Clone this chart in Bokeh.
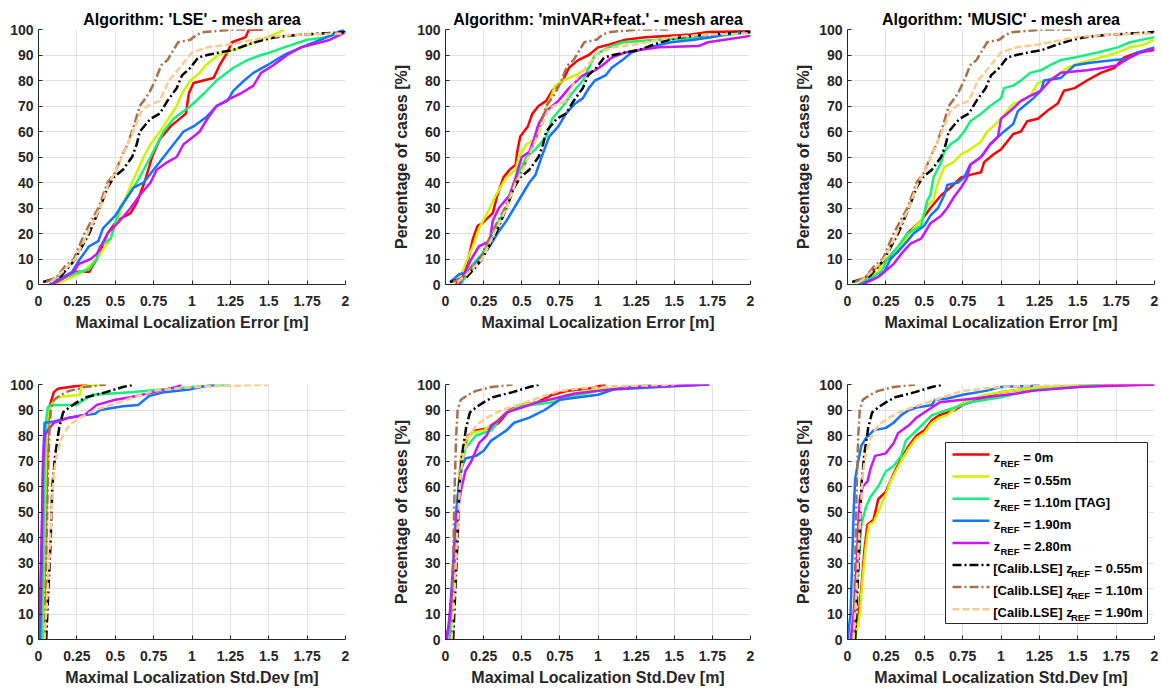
from bokeh.plotting import figure
from bokeh.layouts import column, row
from bokeh.models import FixedTicker
from bokeh.core.properties import value
from bokeh.embed import file_html
from bokeh.resources import INLINE

FONT = "Liberation Sans"

# ---------------- axes / text ----------------
x_ticks = [0, 0.25, 0.5, 0.75, 1, 1.25, 1.5, 1.75, 2]
x_tick_labels = ["0", "0.25", "0.5", "0.75", "1", "1.25", "1.5", "1.75", "2"]
y_ticks = [0, 10, 20, 30, 40, 50, 60, 70, 80, 90, 100]
titles = ["Algorithm: 'LSE' - mesh area",
          "Algorithm: 'minVAR+feat.' - mesh area",
          "Algorithm: 'MUSIC' - mesh area"]
x_label_err = "Maximal Localization Error [m]"
x_label_std = "Maximal Localization Std.Dev [m]"
y_label = "Percentage of cases [%]"

legend_prefix = ["z", "z", "z", "z", "z", "[Calib.LSE] z", "[Calib.LSE] z", "[Calib.LSE] z"]
legend_sub = "REF"
legend_suffix = ["= 0m", "= 0.55m", "= 1.10m [TAG]", "= 1.90m", "= 2.80m",
                 "= 0.55m", "= 1.10m", "= 1.90m"]

COLORS = ["#ff0000", "#ccf500", "#14f07a", "#1473ff", "#c814ff",
          "#000000", "#a8704a", "#ffc88c"]
DASHES = ["solid", "solid", "solid", "solid", "solid", "9 3 2 3", "9 3 2 3", "7 3"]

# ---------------- data: Maximal Localization Error ----------------
lse_err_z000 = ([0.08, 0.15, 0.25, 0.33, 0.38, 0.45, 0.51, 0.6, 0.64, 0.69, 0.74, 0.79, 0.86, 0.96, 0.98, 1.01, 1.14, 1.18, 1.23, 1.26, 1.35, 1.37, 1.46],
                [0, 2, 5, 5, 10, 20, 25, 28, 32, 40, 50, 57, 62, 67, 75, 79, 81, 86, 91, 95, 97, 100, 100])
lse_err_z055 = ([0.08, 0.15, 0.29, 0.38, 0.47, 0.54, 0.61, 0.685, 0.73, 0.815, 0.9, 0.935, 0.99, 1.05, 1.09, 1.17, 1.32, 1.45, 1.57, 1.6],
                [0, 1, 5, 10, 18, 30, 40, 50, 55, 62, 70, 75, 80, 83, 86, 90, 93, 96, 99, 100])
lse_err_z110 = ([0.07, 0.1, 0.22, 0.33, 0.38, 0.4, 0.47, 0.53, 0.64, 0.73, 0.815, 0.88, 0.99, 1.08, 1.16, 1.27, 1.36, 1.45, 1.51, 1.6, 1.75, 1.88, 2.0],
                [0, 1, 4, 6, 10, 15, 18, 30, 40, 50, 60, 65, 70, 75, 80, 85, 88, 90, 91, 93, 96, 97, 99])
lse_err_z190 = ([0.07, 0.1, 0.22, 0.27, 0.33, 0.39, 0.42, 0.5, 0.565, 0.62, 0.685, 0.75, 0.815, 0.88, 0.945, 1.01, 1.1, 1.16, 1.23, 1.27, 1.34, 1.4, 1.49, 1.6, 1.75, 1.84, 1.99],
                [0, 1, 5, 10, 15, 17, 22, 27, 33, 38, 40, 45, 50, 55, 60, 62, 66, 70, 72, 76, 80, 83, 86, 90, 94, 96, 100])
lse_err_z280 = ([0.08, 0.12, 0.23, 0.26, 0.34, 0.38, 0.45, 0.53, 0.6, 0.66, 0.73, 0.77, 0.84, 0.9, 0.945, 1.01, 1.05, 1.1, 1.16, 1.25, 1.32, 1.4, 1.45, 1.53, 1.62, 1.71, 1.84, 1.9, 2.0],
                [0, 1, 5, 8, 10, 12, 20, 25, 30, 35, 40, 45, 48, 50, 55, 58, 60, 65, 70, 73, 75, 78, 83, 86, 90, 93, 95, 96, 99])

mv_err_z000 = ([0.07, 0.12, 0.15, 0.18, 0.21, 0.24, 0.31, 0.34, 0.38, 0.42, 0.46, 0.47, 0.49, 0.54, 0.57, 0.61, 0.66, 0.7, 0.77, 0.81, 0.87, 0.94, 1.0, 1.07, 1.18, 1.31, 1.61, 1.72, 2.0],
               [0, 5, 10, 18, 23, 24, 28, 35, 42, 45, 47, 52, 58, 62, 67, 70, 72, 76, 80, 85, 88, 90, 93, 94, 96, 97, 98, 99, 99.3])
mv_err_z055 = ([0.08, 0.13, 0.18, 0.22, 0.29, 0.33, 0.4, 0.46, 0.48, 0.53, 0.59, 0.63, 0.68, 0.72, 0.77, 0.85, 0.94, 0.98, 1.07, 1.18, 1.4, 1.72, 2.0],
               [0, 8, 15, 22, 30, 35, 42, 45, 50, 55, 57, 65, 72, 78, 80, 82, 85, 90, 93, 95, 96, 97, 99])
mv_err_z110 = ([0.1, 0.18, 0.24, 0.31, 0.35, 0.4, 0.46, 0.49, 0.53, 0.59, 0.66, 0.7, 0.77, 0.83, 0.9, 0.94, 0.98, 1.07, 1.16, 1.4, 1.72, 2.0],
               [0, 8, 12, 20, 25, 30, 40, 45, 50, 53, 58, 65, 70, 75, 80, 85, 90, 93, 95, 96, 97, 99])
mv_err_z190 = ([0.03, 0.05, 0.09, 0.16, 0.22, 0.29, 0.34, 0.4, 0.45, 0.5, 0.55, 0.59, 0.63, 0.68, 0.74, 0.79, 0.85, 0.9, 0.94, 0.98, 1.05, 1.09, 1.16, 1.22, 1.33, 1.48, 1.63, 1.74, 1.83, 2.0],
               [1, 2, 4, 5, 10, 15, 20, 25, 30, 35, 40, 43, 50, 58, 62, 67, 71, 73, 77, 80, 82, 85, 88, 91, 93, 95, 96, 97, 98, 99])
mv_err_z280 = ([0.09, 0.13, 0.17, 0.22, 0.29, 0.31, 0.35, 0.42, 0.46, 0.5, 0.55, 0.58, 0.61, 0.66, 0.74, 0.81, 0.9, 0.98, 1.03, 1.09, 1.18, 1.27, 1.4, 1.66, 1.72, 1.83, 2.0],
               [0, 5, 10, 15, 17, 25, 30, 35, 42, 50, 52, 57, 63, 68, 72, 77, 82, 84, 86, 89, 91, 92, 93, 93.5, 95, 96, 97.5])

mu_err_z000 = ([0.08, 0.15, 0.22, 0.26, 0.33, 0.39, 0.48, 0.54, 0.61, 0.67, 0.74, 0.8, 0.87, 0.89, 0.95, 1.0, 1.04, 1.08, 1.13, 1.17, 1.24, 1.3, 1.37, 1.41, 1.48, 1.56, 1.65, 1.74, 1.8, 1.89, 2.0],
               [0, 5, 8, 10, 13, 20, 25, 30, 35, 38, 42, 43, 44, 48, 51, 53, 56, 59, 60, 64, 65, 68, 71, 76, 77, 80, 83, 85, 89, 91, 92])
mu_err_z055 = ([0.07, 0.2, 0.24, 0.3, 0.37, 0.43, 0.48, 0.52, 0.56, 0.59, 0.63, 0.69, 0.74, 0.8, 0.87, 0.91, 0.95, 1.0, 1.04, 1.08, 1.15, 1.19, 1.24, 1.3, 1.37, 1.43, 1.52, 1.65, 1.76, 1.84, 1.93, 2.0],
               [0, 5, 10, 12, 17, 22, 25, 31, 33, 40, 46, 48, 51, 53, 56, 60, 62, 65, 68, 71, 72, 74, 79, 80, 82, 85, 87, 89, 91, 93, 94, 96])
mu_err_z110 = ([0.07, 0.22, 0.26, 0.33, 0.39, 0.48, 0.52, 0.54, 0.56, 0.61, 0.63, 0.67, 0.72, 0.76, 0.8, 0.87, 0.93, 1.0, 1.02, 1.08, 1.13, 1.19, 1.26, 1.32, 1.39, 1.48, 1.63, 1.76, 1.84, 2.0],
               [0, 5, 10, 15, 20, 23, 33, 35, 42, 48, 52, 55, 57, 60, 64, 67, 70, 73, 77, 78, 80, 83, 84, 86, 88, 89, 91, 93, 95, 97])
mu_err_z190 = ([0.08, 0.2, 0.24, 0.28, 0.33, 0.39, 0.43, 0.5, 0.54, 0.59, 0.63, 0.65, 0.72, 0.76, 0.8, 0.87, 0.93, 1.0, 1.04, 1.08, 1.11, 1.15, 1.21, 1.26, 1.28, 1.39, 1.48, 1.58, 1.74, 1.82, 1.89, 2.0],
               [0, 3, 5, 10, 13, 17, 20, 23, 27, 30, 35, 39, 40, 42, 47, 50, 55, 59, 61, 63, 68, 70, 73, 76, 80, 81, 86, 87, 88, 88.5, 91, 93])
mu_err_z280 = ([0.1, 0.2, 0.24, 0.3, 0.35, 0.41, 0.48, 0.5, 0.54, 0.61, 0.65, 0.69, 0.74, 0.78, 0.8, 0.87, 0.93, 0.98, 1.0, 1.06, 1.13, 1.19, 1.26, 1.32, 1.39, 1.56, 1.67, 1.76, 1.84, 1.91, 2.0],
               [0, 3, 5, 8, 12, 16, 18, 20, 24, 27, 30, 34, 38, 42, 47, 50, 55, 58, 65, 68, 72, 74, 76, 80, 83, 84, 85, 86, 89, 91, 92.5])

calib_err_z055 = ([0.03, 0.14, 0.2, 0.24, 0.33, 0.4, 0.45, 0.49, 0.55, 0.61, 0.64, 0.66, 0.73, 0.79, 0.84, 0.9, 0.935, 0.99, 1.04, 1.1, 1.18, 1.27, 1.36, 1.47, 1.55, 1.71, 2.0],
                  [1, 3, 7, 10, 20, 30, 38, 42, 45, 50, 55, 60, 65, 67, 72, 77, 82, 85, 89, 90, 91, 92, 94, 96, 97, 98, 99])
calib_err_z110 = ([0.05, 0.12, 0.17, 0.23, 0.3, 0.39, 0.45, 0.5, 0.54, 0.58, 0.62, 0.66, 0.72, 0.76, 0.8, 0.84, 0.87, 0.91, 0.99, 1.03, 1.08, 1.27, 1.46],
                  [1, 3, 7, 10, 20, 30, 40, 44, 50, 55, 62, 70, 75, 80, 86, 88, 91, 95, 96, 98, 99, 100, 100])
calib_err_z190 = ([0.08, 0.14, 0.24, 0.32, 0.4, 0.46, 0.5, 0.58, 0.63, 0.67, 0.71, 0.79, 0.85, 0.92, 1.0, 1.1, 1.23, 1.32, 1.49, 1.71, 2.0],
                  [1, 4, 10, 20, 30, 40, 44, 55, 62, 68, 70, 72, 80, 85, 91, 93, 94, 95, 97, 98, 98.5])

# ---------------- data: Maximal Localization Std.Dev ----------------
lse_std_z000 = ([0.03, 0.04, 0.05, 0.06, 0.07, 0.08, 0.1, 0.125, 0.2, 0.32],
                [0, 20, 50, 80, 91, 93, 97, 98.3, 99, 100])
lse_std_z055 = ([0.03, 0.04, 0.05, 0.06, 0.07, 0.12, 0.27, 0.28, 0.3, 0.43],
                [0, 30, 70, 88, 91, 95, 96, 99, 99.5, 100])
lse_std_z110 = ([0.02, 0.03, 0.04, 0.05, 0.06, 0.08, 0.25, 0.27, 0.35, 0.6, 0.8, 1.0, 1.25],
                [0, 30, 70, 86, 91, 92, 92, 93, 96, 97, 98, 99, 100])
lse_std_z190 = ([0.01, 0.02, 0.03, 0.04, 0.1, 0.2, 0.3, 0.37, 0.4, 0.55, 0.65, 0.72, 0.82, 0.98, 1.1, 1.15],
                [0, 30, 70, 85, 85.5, 87, 88, 88.5, 90, 91.5, 92, 95.5, 97, 98, 99.5, 100])
lse_std_z280 = ([0.0, 0.01, 0.02, 0.03, 0.04, 0.06, 0.1, 0.2, 0.3, 0.38, 0.5, 0.6, 0.75, 0.9, 0.93],
                [0, 15, 40, 70, 80, 82, 85, 87, 88, 92, 94, 95, 97, 99, 100])

mv_std_z000 = ([0.03, 0.06, 0.08, 0.1, 0.12, 0.15, 0.2, 0.3, 0.35, 0.42, 0.5, 0.6, 0.7, 0.8, 0.95, 1.05],
               [0, 30, 55, 70, 75, 80, 82, 83, 85, 90, 92, 93, 96, 97.5, 98.5, 100])
mv_std_z055 = ([0.03, 0.06, 0.08, 0.1, 0.13, 0.17, 0.25, 0.32, 0.4, 0.5, 0.7, 0.8, 1.0, 1.2, 1.35],
               [0, 30, 55, 70, 78, 81, 82, 85, 89, 92, 94, 96, 98, 99, 100])
mv_std_z110 = ([0.03, 0.06, 0.08, 0.1, 0.13, 0.2, 0.3, 0.35, 0.4, 0.5, 0.7, 0.8, 1.0, 1.2, 1.35],
               [0, 30, 50, 65, 75, 80, 82, 86, 89, 91.5, 93, 95, 97.5, 99, 100])
mv_std_z190 = ([0.01, 0.03, 0.05, 0.07, 0.09, 0.11, 0.13, 0.2, 0.25, 0.3, 0.35, 0.4, 0.45, 0.55, 0.65, 0.7, 0.75, 1.0, 1.1, 1.4, 1.73],
               [0, 10, 30, 50, 62, 68, 71, 72, 74, 78, 80, 82, 85, 87, 90, 92, 94, 96, 98, 99, 100])
mv_std_z280 = ([0.0, 0.02, 0.05, 0.08, 0.1, 0.13, 0.17, 0.22, 0.27, 0.3, 0.35, 0.4, 0.5, 0.6, 0.75, 0.85, 1.0, 1.25, 1.73],
               [0, 5, 25, 50, 58, 66, 70, 77, 80, 84, 86, 89, 91, 93, 95, 96.5, 97.5, 99, 100])

mu_std_z000 = ([0.04, 0.07, 0.09, 0.11, 0.13, 0.17, 0.2, 0.25, 0.3, 0.35, 0.4, 0.45, 0.5, 0.55, 0.6, 0.7, 0.75, 0.9, 1.0, 1.2, 1.5, 2.0],
               [0, 8, 20, 35, 45, 47, 55, 58, 65, 71, 76, 80, 82, 86, 88, 90, 92, 95, 97, 98.5, 99.5, 100])
mu_std_z055 = ([0.05, 0.08, 0.1, 0.12, 0.14, 0.17, 0.2, 0.25, 0.28, 0.35, 0.4, 0.45, 0.5, 0.55, 0.6, 0.65, 0.75, 0.9, 1.0, 1.2, 1.5, 1.65],
               [0, 10, 25, 37, 45, 46, 50, 57, 62, 70, 75, 79, 81, 85, 87, 88, 93, 96, 97, 98.5, 99.5, 100])
mu_std_z110 = ([0.03, 0.05, 0.07, 0.09, 0.12, 0.15, 0.2, 0.25, 0.3, 0.35, 0.38, 0.45, 0.5, 0.55, 0.65, 0.8, 1.0, 1.1, 1.25, 1.5, 1.65],
               [0, 10, 30, 45, 52, 56, 60, 66, 68, 72, 78, 82, 85, 88, 90, 93, 95, 96.5, 98, 99, 100])
mu_std_z190 = ([0.0, 0.02, 0.03, 0.04, 0.05, 0.07, 0.09, 0.12, 0.17, 0.25, 0.3, 0.35, 0.4, 0.45, 0.55, 0.57, 0.65, 0.75, 0.9, 1.0, 1.2, 1.25],
               [0, 10, 30, 50, 63, 70, 76, 79, 82, 83, 85, 88, 90, 91, 92, 94, 94.5, 96, 97.5, 99, 99.5, 100])
mu_std_z280 = ([0.02, 0.04, 0.06, 0.07, 0.08, 0.1, 0.13, 0.15, 0.18, 0.25, 0.3, 0.33, 0.4, 0.45, 0.5, 0.55, 0.6, 0.75, 0.9, 1.1, 1.2, 1.5, 2.0],
               [0, 10, 30, 45, 55, 60, 62, 67, 72, 73, 77, 81, 84, 87, 89, 91, 93, 94, 95, 96.5, 97.5, 99, 100])

calib_std_z055 = ([0.05, 0.065, 0.08, 0.09, 0.11, 0.135, 0.16, 0.2, 0.25, 0.31, 0.44, 0.55, 0.62],
                  [0, 20, 40, 60, 73, 83, 89, 91, 93, 95, 97, 99, 100])
calib_std_z110 = ([0.04, 0.05, 0.06, 0.07, 0.08, 0.1, 0.15, 0.2, 0.3, 0.44],
                  [0, 30, 60, 80, 90, 94, 96, 97.5, 99, 100])
calib_std_z190 = ([0.04, 0.06, 0.08, 0.1, 0.12, 0.15, 0.2, 0.27, 0.37, 0.5, 0.62, 0.75, 0.9, 1.1, 1.3, 1.5],
                  [0, 20, 45, 65, 73, 79, 84, 87, 90, 92.5, 95, 97.5, 98.5, 99.3, 99.6, 100])

calib_err = [calib_err_z055, calib_err_z110, calib_err_z190]
calib_std = [calib_std_z055, calib_std_z110, calib_std_z190]

panels_err = [
    [lse_err_z000, lse_err_z055, lse_err_z110, lse_err_z190, lse_err_z280] + calib_err,
    [mv_err_z000, mv_err_z055, mv_err_z110, mv_err_z190, mv_err_z280] + calib_err,
    [mu_err_z000, mu_err_z055, mu_err_z110, mu_err_z190, mu_err_z280] + calib_err,
]
panels_std = [
    [lse_std_z000, lse_std_z055, lse_std_z110, lse_std_z190, lse_std_z280] + calib_std,
    [mv_std_z000, mv_std_z055, mv_std_z110, mv_std_z190, mv_std_z280] + calib_std,
    [mu_std_z000, mu_std_z055, mu_std_z110, mu_std_z190, mu_std_z280] + calib_std,
]

# ---------------- layout ----------------
FRAME_W, FRAME_H = 307, 255
COL_BORDERS = [(38, 45), (53, 35), (62, 7)]  # (left, right)
TOP_BORDERS = (29, 71)
BOT_BORDERS = (29, 51)
TXT = "#262626"
LW = 2.5


def make_fig(col, borders, title, xlabel, curves):
    bl, br = COL_BORDERS[col]
    bt, bb = borders
    p = figure(width=bl + FRAME_W + br, height=bt + FRAME_H + bb,
               x_range=(0, 2), y_range=(0, 100),
               min_border_left=bl, min_border_right=br,
               min_border_top=bt, min_border_bottom=bb,
               output_backend="svg", toolbar_location=None,
               title=title)
    p.outline_line_color = None
    p.background_fill_color = "white"
    p.border_fill_color = "white"
    if title is not None:
        p.title.text_font = FONT
        p.title.text_font_size = "16px"
        p.title.text_font_style = "bold"
        p.title.text_color = "#000000"
        p.title.align = "center"
        p.title.standoff = 4
        p.title.offset = 0
    p.xaxis.ticker = FixedTicker(ticks=x_ticks)
    p.xaxis.major_label_overrides = {t: l for t, l in zip(x_ticks, x_tick_labels)}
    p.yaxis.ticker = FixedTicker(ticks=y_ticks)
    p.xaxis.axis_label = xlabel
    p.yaxis.axis_label = y_label if col > 0 else None
    for ax in (p.xaxis[0], p.yaxis[0]):
        ax.axis_line_color = TXT
        ax.axis_line_width = 1
        ax.major_tick_in = 4
        ax.major_tick_out = 0
        ax.major_tick_line_color = TXT
        ax.minor_tick_line_color = None
        ax.major_label_text_font = FONT
        ax.major_label_text_font_size = "14px"
        ax.major_label_text_font_style = "bold"
        ax.major_label_text_color = TXT
        ax.axis_label_text_font = FONT
        ax.axis_label_text_font_size = "16px"
        ax.axis_label_text_font_style = "bold"
        ax.axis_label_text_color = TXT
    p.xaxis.major_label_standoff = 11
    p.xaxis.axis_label_standoff = 5
    p.yaxis.major_label_standoff = 5
    p.yaxis.axis_label_standoff = 4
    p.xgrid.ticker = FixedTicker(ticks=x_ticks)
    p.ygrid.ticker = FixedTicker(ticks=y_ticks)
    for g in (p.xgrid[0], p.ygrid[0]):
        g.grid_line_color = "#e2e2e2"
        g.grid_line_width = 1
    for (xs, ys), color, dash in zip(curves, COLORS, DASHES):
        p.line(xs, ys, line_color=color, line_width=LW, line_dash=dash, line_join="round")
    return p


def fx(o):
    return o / FRAME_W * 2.0


def fy(o):
    return 100.0 - o / FRAME_H * 100.0


def add_legend(p):
    p.quad(left=fx(98), right=fx(300), top=fy(58), bottom=fy(239),
           fill_color="white", line_color=TXT, line_width=1)
    for i in range(len(COLORS)):
        rc = 70 + 22.1 * i
        p.line([fx(105), fx(142)], [fy(rc), fy(rc)], line_color=COLORS[i],
               line_width=LW, line_dash=DASHES[i])
        calib = i >= 5
        x_main = 145.7 if calib else 146.3
        x_sub = 223.5 if calib else 153.0
        x_suf = 247.0 if calib else 175.7
        common = dict(text_font=value(FONT), text_font_style="bold", text_color="#000000",
                      text_baseline="alphabetic", text_align="left")
        p.text([fx(x_main)], [fy(rc + 3.4)], text=[legend_prefix[i]], text_font_size="13px", **common)
        p.text([fx(x_sub)], [fy(rc + 8.7)], text=[legend_sub], text_font_size="9.5px", **common)
        p.text([fx(x_suf)], [fy(rc + 3.4)], text=[legend_suffix[i]], text_font_size="13px", **common)


top_figs = [make_fig(c, TOP_BORDERS, titles[c], x_label_err, panels_err[c]) for c in range(3)]
bot_figs = [make_fig(c, BOT_BORDERS, None, x_label_std, panels_std[c]) for c in range(3)]
add_legend(bot_figs[2])

layout = column(row(*top_figs), row(*bot_figs))
open("out.html", "w").write(file_html(layout, INLINE))
